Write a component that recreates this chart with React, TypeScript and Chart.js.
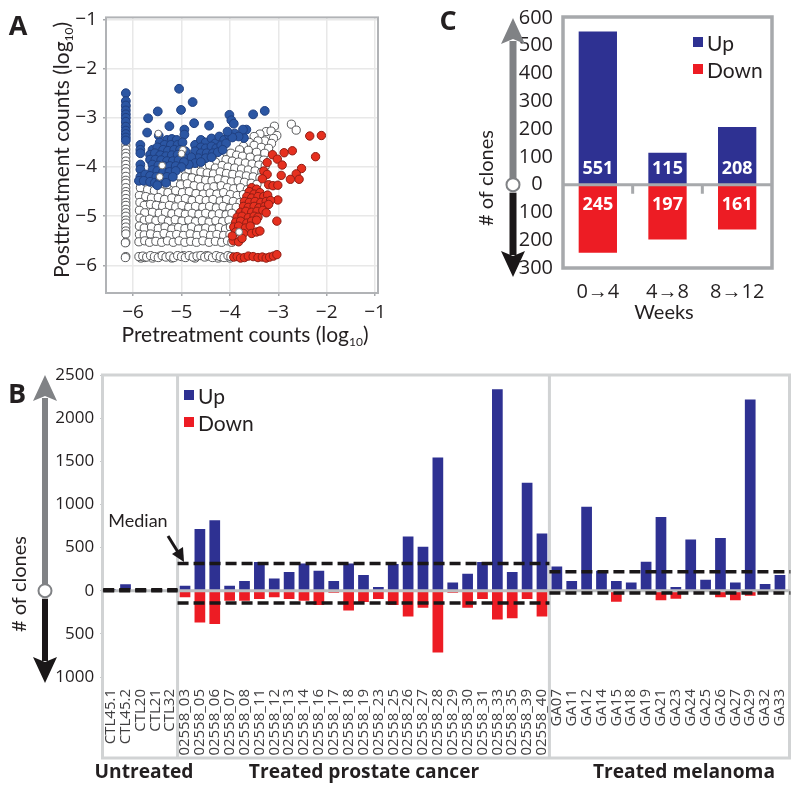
import React, { useRef, useEffect } from "react";
import Chart from "chart.js/auto";

const FONT = '"Open Sans"';
const TITLE_FONT = "Lato";
const INK = "#231f20";
const BLUE = "#2e3192";
const RED = "#ed1c24";

// panel A, [pretreatment, posttreatment] in log10
const whiteClones: [number, number][] = [
  [-2.73, -3.13], [-2.63, -3.25], [-3.08, -3.17],
  [-3.25, -3.28], [-3.15, -3.27], [-3.03, -3.36], [-3.38, -3.33], [-3.1, -3.42], [-3.5, -3.38],
  [-3.28, -3.47], [-3.42, -3.47], [-3.14, -3.52], [-3.6, -3.5], [-3.5, -3.56], [-3.35, -3.6],
  [-3.2, -3.62], [-3.72, -3.58], [-3.62, -3.66], [-3.45, -3.7], [-3.28, -3.72], [-3.8, -3.65],
  [-3.98, -3.72], [-3.86, -3.76], [-3.74, -3.78], [-3.58, -3.8], [-3.42, -3.84], [-3.3, -3.86],
  [-4.2, -3.82], [-4.08, -3.85], [-3.95, -3.88], [-3.82, -3.9], [-3.68, -3.92], [-3.54, -3.94],
  [-3.4, -3.96], [-3.27, -3.98], [-4.3, -3.9],
  [-4.55, -3.98], [-4.42, -3.96], [-4.3, -4.02], [-4.16, -3.97], [-4.04, -4.0], [-3.9, -4.02],
  [-3.76, -4.04], [-3.62, -4.06], [-3.48, -4.08], [-3.34, -4.1],
  [-4.85, -4.05], [-4.72, -4.08], [-4.6, -4.1], [-4.47, -4.12], [-4.34, -4.14], [-4.2, -4.1],
  [-4.07, -4.13], [-3.94, -4.15], [-3.8, -4.16], [-3.66, -4.18], [-3.52, -4.2], [-3.38, -4.22],
  [-5.05, -4.18], [-4.92, -4.2], [-4.78, -4.22], [-4.65, -4.25], [-4.5, -4.27], [-4.37, -4.28],
  [-4.24, -4.24], [-4.1, -4.27], [-3.97, -4.3], [-3.83, -4.28], [-3.7, -4.31], [-3.56, -4.33], [-3.44, -4.35],
  [-5.3, -4.36], [-5.15, -4.33], [-5.02, -4.36], [-4.88, -4.34], [-4.74, -4.38], [-4.6, -4.4],
  [-4.46, -4.42], [-4.33, -4.4], [-4.18, -4.38], [-4.05, -4.42], [-3.92, -4.44], [-3.78, -4.42],
  [-3.64, -4.46], [-3.52, -4.5],
  [-5.85, -4.42], [-5.7, -4.46], [-5.56, -4.48], [-5.42, -4.5], [-5.28, -4.52], [-5.12, -4.48],
  [-4.98, -4.52], [-4.84, -4.5], [-4.7, -4.54], [-4.55, -4.55], [-4.41, -4.53], [-4.27, -4.55],
  [-4.13, -4.52], [-3.99, -4.56], [-3.85, -4.58], [-3.72, -4.56], [-3.6, -4.6],
  [-5.87, -4.58], [-5.74, -4.6], [-5.62, -4.63], [-5.48, -4.62], [-5.35, -4.66], [-5.2, -4.63],
  [-5.06, -4.66], [-4.92, -4.64], [-4.78, -4.68], [-4.63, -4.66], [-4.49, -4.68], [-4.35, -4.66],
  [-4.2, -4.69], [-4.07, -4.66], [-3.93, -4.7], [-3.79, -4.72],
  [-5.86, -4.72], [-5.77, -4.78], [-5.64, -4.76], [-5.52, -4.78], [-5.39, -4.8], [-5.25, -4.78],
  [-5.12, -4.81], [-4.99, -4.78], [-4.85, -4.82], [-4.71, -4.8], [-4.56, -4.82], [-4.42, -4.8],
  [-4.28, -4.83], [-4.14, -4.8], [-4.0, -4.84], [-3.87, -4.82],
  [-5.87, -4.88], [-5.76, -4.93], [-5.6, -4.92], [-5.46, -4.94], [-5.33, -4.92], [-5.2, -4.95],
  [-5.06, -4.93], [-4.92, -4.96], [-4.78, -4.94], [-4.64, -4.96], [-4.5, -4.94], [-4.36, -4.97],
  [-4.22, -4.95], [-4.08, -4.97], [-3.96, -4.94],
  [-5.86, -5.04], [-5.77, -5.08], [-5.66, -5.06], [-5.53, -5.09], [-5.4, -5.06], [-5.27, -5.1],
  [-5.13, -5.07], [-4.99, -5.1], [-4.85, -5.08], [-4.71, -5.11], [-4.57, -5.09], [-4.43, -5.12],
  [-4.29, -5.09], [-4.15, -5.11], [-4.02, -5.08],
  [-5.87, -5.2], [-5.77, -5.24], [-5.62, -5.22], [-5.48, -5.25], [-5.34, -5.22], [-5.2, -5.26],
  [-5.06, -5.23], [-4.93, -5.25], [-4.79, -5.22], [-4.65, -5.26], [-4.5, -5.24], [-4.36, -5.26],
  [-4.22, -5.23], [-4.09, -5.26], [-3.99, -5.22],
  [-5.87, -5.37], [-5.77, -5.38], [-5.64, -5.36], [-5.5, -5.39], [-5.36, -5.35], [-5.23, -5.39],
  [-5.1, -5.37], [-4.96, -5.39], [-4.82, -5.36], [-4.68, -5.39], [-4.54, -5.36], [-4.4, -5.39],
  [-4.27, -5.37], [-4.13, -5.39], [-4.0, -5.37],
  [-5.88, -5.52], [-5.76, -5.5], [-5.66, -5.53], [-5.53, -5.51], [-5.41, -5.53], [-5.29, -5.5],
  [-5.17, -5.53], [-5.05, -5.5], [-4.93, -5.53], [-4.81, -5.51], [-4.69, -5.53], [-4.56, -5.5],
  [-4.43, -5.53], [-4.3, -5.51], [-4.17, -5.53], [-4.05, -5.5], [-3.96, -5.53],
  [-5.88, -5.82], [-5.8, -5.81], [-5.72, -5.83], [-5.64, -5.8], [-5.56, -5.82], [-5.48, -5.84],
  [-5.4, -5.8], [-5.32, -5.83], [-5.24, -5.81], [-5.16, -5.84], [-5.08, -5.8], [-5.0, -5.82],
  [-4.92, -5.84], [-4.84, -5.8], [-4.76, -5.83], [-4.68, -5.81], [-4.6, -5.8], [-4.52, -5.83],
  [-4.44, -5.81], [-4.36, -5.84], [-4.28, -5.8], [-4.2, -5.82], [-4.12, -5.84], [-4.04, -5.8], [-3.98, -5.82],
  [-6.15, -2.78], [-6.15, -3.12], [-6.15, -3.56], [-6.15, -3.64], [-6.15, -3.72], [-6.15, -3.79],
  [-6.15, -3.88], [-6.15, -3.95], [-6.15, -4.03], [-6.15, -4.1], [-6.15, -4.19], [-6.15, -4.27],
  [-6.15, -4.33], [-6.15, -4.42], [-6.15, -4.5], [-6.15, -4.56], [-6.15, -4.64], [-6.15, -4.72],
  [-6.15, -4.78], [-6.15, -4.86], [-6.15, -4.93], [-6.15, -5.0], [-6.15, -5.08], [-6.15, -5.14],
  [-6.15, -5.22], [-6.15, -5.3], [-6.15, -5.36], [-6.15, -5.53], [-6.16, -5.54], [-6.15, -5.82], [-6.16, -5.84],
];
// the clones packed into the gaps of the rows above
const whiteFill: [number, number][] = [
  [-5.5, -4.55], [-5.22, -4.58], [-4.9, -4.58], [-4.62, -4.6], [-4.34, -4.6], [-4.06, -4.6], [-3.8, -4.62],
  [-5.7, -4.7], [-5.42, -4.72], [-5.14, -4.73], [-4.86, -4.74], [-4.57, -4.74], [-4.28, -4.74], [-4.0, -4.75],
  [-5.68, -4.85], [-5.4, -4.87], [-5.12, -4.88], [-4.85, -4.87], [-4.58, -4.89], [-4.3, -4.88], [-4.02, -4.89],
  [-5.62, -5.0], [-5.34, -5.0], [-5.06, -5.02], [-4.78, -5.01], [-4.5, -5.02], [-4.22, -5.03], [-3.98, -5.02],
  [-5.56, -5.16], [-5.3, -5.15], [-5.02, -5.17], [-4.72, -5.17], [-4.44, -5.16], [-4.16, -5.18],
  [-5.54, -5.31], [-5.26, -5.3], [-5.0, -5.31], [-4.72, -5.31], [-4.46, -5.3], [-4.2, -5.31],
  [-5.6, -5.45], [-5.3, -5.45], [-5.02, -5.44], [-4.75, -5.45], [-4.48, -5.44], [-4.2, -5.45],
  [-5.1, -4.42], [-4.82, -4.44], [-4.54, -4.46], [-4.25, -4.47], [-3.98, -4.49], [-3.72, -4.5],
  [-4.86, -4.28], [-4.58, -4.32], [-4.3, -4.32], [-4.02, -4.36], [-3.76, -4.36],
  [-4.66, -4.17], [-4.4, -4.2], [-4.13, -4.19], [-3.87, -4.22], [-3.6, -4.26],
  [-4.36, -4.06], [-4.1, -4.06], [-3.84, -4.09], [-3.58, -4.12],
  [-4.02, -3.92], [-3.76, -3.97], [-3.48, -4.0], [-3.9, -3.82], [-3.65, -3.86], [-3.36, -3.9],
  [-3.55, -3.65], [-3.33, -3.54], [-3.22, -3.55], [-3.44, -3.42],
  [-5.84, -5.85], [-5.76, -5.84], [-5.6, -5.85], [-5.44, -5.81], [-5.2, -5.85], [-4.96, -5.8],
  [-4.72, -5.85], [-4.48, -5.8], [-4.24, -5.85], [-4.0, -5.85],
];
const whiteOnTop: [number, number][] = [
  [-5.48, -3.32], [-5.4, -3.97], [-5.45, -4.2], [-4.97, -3.65], [-5.0, -3.73], [-3.81, -5.32],
];
const blueClones: [number, number][] = [
  [-5.05, -2.41], [-4.77, -2.68], [-5.01, -2.84], [-5.49, -2.87], [-5.69, -3.01], [-4.01, -2.94],
  [-3.97, -3.05], [-3.92, -3.12], [-3.52, -2.93], [-3.28, -2.86], [-4.74, -3.11], [-4.43, -3.16],
  [-5.25, -3.17], [-4.94, -3.24], [-4.94, -3.34], [-5.71, -3.3], [-5.47, -3.36], [-3.66, -3.24],
  [-3.71, -3.41], [-3.73, -3.24],
  [-6.15, -2.5], [-6.15, -2.66], [-6.15, -2.75], [-6.15, -2.85], [-6.15, -2.93], [-6.15, -3.0],
  [-6.15, -3.08], [-6.15, -3.18], [-6.15, -3.26], [-6.15, -3.33], [-6.15, -3.4], [-6.15, -3.46],
  [-4.72, -3.55], [-4.6, -3.45], [-4.5, -3.5], [-4.38, -3.42], [-4.3, -3.52], [-4.22, -3.38],
  [-4.12, -3.45], [-4.02, -3.35], [-3.9, -3.32], [-3.82, -3.38], [-3.95, -3.4], [-4.05, -3.28],
  [-4.6, -3.6], [-4.5, -3.62], [-4.38, -3.58], [-4.28, -3.62], [-4.18, -3.56], [-4.08, -3.52],
  [-4.72, -3.68], [-4.6, -3.72], [-4.48, -3.72], [-4.35, -3.72], [-4.25, -3.7], [-4.15, -3.65],
  [-4.65, -3.82], [-4.5, -3.82], [-4.38, -3.8], [-4.8, -3.8], [-4.72, -3.92], [-4.85, -3.95], [-4.6, -3.9],
  [-5.3, -3.45], [-5.2, -3.43], [-5.1, -3.45], [-5.45, -3.5], [-5.35, -3.55], [-5.22, -3.55],
  [-5.08, -3.55], [-4.98, -3.5], [-5.6, -3.65], [-5.5, -3.6], [-5.38, -3.65], [-5.28, -3.67],
  [-5.15, -3.65], [-5.03, -3.65], [-4.92, -3.68], [-5.65, -3.75], [-5.55, -3.72], [-5.44, -3.76],
  [-5.32, -3.78], [-5.2, -3.76], [-5.08, -3.75], [-4.97, -3.8], [-5.65, -3.85], [-5.54, -3.85],
  [-5.42, -3.86], [-5.3, -3.88], [-5.18, -3.88], [-5.06, -3.86], [-4.95, -3.9], [-5.6, -3.95],
  [-5.48, -3.97], [-5.36, -3.98], [-5.24, -3.98], [-5.12, -3.98], [-5.0, -4.0], [-5.85, -3.95],
  [-5.85, -4.05], [-5.6, -4.06], [-5.5, -4.08], [-5.38, -4.1], [-5.25, -4.1], [-5.12, -4.08],
  [-5.85, -4.2], [-5.75, -4.15], [-5.65, -4.18], [-5.52, -4.2], [-5.42, -4.22], [-5.3, -4.2],
  [-5.18, -4.2], [-5.88, -4.28], [-5.78, -4.28], [-5.65, -4.3], [-5.55, -4.32], [-5.45, -4.3],
  [-5.32, -4.32], [-5.5, -4.37], [-5.85, -3.55], [-5.85, -3.65], [-5.85, -3.72],
];
const redClones: [number, number][] = [
  [-2.11, -3.36], [-2.35, -3.37], [-2.23, -3.79], [-2.71, -3.67], [-2.88, -3.71], [-3.12, -3.75],
  [-3.02, -3.84], [-2.92, -3.96], [-2.52, -4.03], [-2.63, -4.14], [-2.75, -4.25], [-2.57, -4.25],
  [-2.94, -4.17], [-3.23, -3.91], [-3.3, -4.08], [-3.23, -4.15], [-3.33, -4.24], [-3.2, -4.36],
  [-3.11, -4.38], [-3.01, -4.37], [-3.01, -4.67], [-3.03, -5.1],
  [-3.55, -4.42], [-3.45, -4.45], [-3.6, -4.5], [-3.5, -4.55], [-3.38, -4.52], [-3.65, -4.6],
  [-3.55, -4.63], [-3.42, -4.6], [-3.3, -4.6], [-3.22, -4.57], [-3.7, -4.7], [-3.6, -4.72],
  [-3.48, -4.7], [-3.36, -4.72], [-3.25, -4.7], [-3.16, -4.68], [-3.72, -4.8], [-3.62, -4.82],
  [-3.5, -4.8], [-3.4, -4.83], [-3.28, -4.8], [-3.2, -4.76], [-3.78, -4.92], [-3.67, -4.9],
  [-3.55, -4.92], [-3.44, -4.9], [-3.32, -4.88], [-3.25, -4.93], [-3.85, -5.02], [-3.75, -5.0],
  [-3.62, -5.03], [-3.5, -5.0], [-3.42, -5.02], [-3.88, -5.12], [-3.78, -5.1], [-3.65, -5.14],
  [-3.55, -5.1], [-3.45, -5.08], [-3.92, -5.22], [-3.82, -5.2], [-3.68, -5.24], [-3.58, -5.2],
  [-3.88, -5.32], [-3.72, -5.35], [-3.55, -5.35], [-3.45, -5.32], [-3.38, -5.3], [-3.93, -5.5],
  [-3.82, -5.52], [-3.75, -5.45], [-3.95, -5.4],
  [-3.92, -5.83], [-3.85, -5.82], [-3.78, -5.85], [-3.7, -5.84], [-3.62, -5.81], [-3.52, -5.82],
  [-3.42, -5.84], [-3.33, -5.83], [-3.25, -5.85], [-3.18, -5.83], [-3.1, -5.81], [-3.03, -5.78],
];

// panel B
const sampleLabels = [
  "CTL45.1", "CTL45.2", "CTL20", "CTL21", "CTL32",
  "02558_03", "02558_05", "02558_06", "02558_07", "02558_08", "02558_11", "02558_12", "02558_13",
  "02558_14", "02558_16", "02558_17", "02558_18", "02558_19", "02558_23", "02558_25", "02558_26",
  "02558_27", "02558_28", "02558_29", "02558_30", "02558_31", "02558_33", "02558_35", "02558_39", "02558_40",
  "GA07", "GA11", "GA12", "GA14", "GA15", "GA18", "GA19", "GA21", "GA23", "GA24", "GA25", "GA26",
  "GA27", "GA29", "GA32", "GA33",
];
const sampleUp = [
  20, 75, 5, 5, 5,
  58, 714, 818, 58, 112, 332, 143, 216, 316, 231, 112, 316, 181, 42, 309, 629, 509, 1543, 96, 197, 332, 2334, 216, 1250, 664,
  282, 112, 972, 231, 112, 96, 336, 853, 42, 594, 127, 610, 96, 2215, 77, 181,
];
const sampleDown = [
  -10, -15, -5, -5, -5,
  -77, -369, -385, -115, -115, -96, -77, -96, -115, -165, -23, -230, -130, -96, -165, -300, -196, -715, -23, -196, -96, -335, -319, -96, -300,
  -15, -5, -5, -5, -127, -5, -10, -111, -92, -5, -5, -77, -111, -58, -5, -5,
];
const groupEdges = [0, 5, 30, 46];
const medianUp = [10, 316, 220];
const medianDown = [0, -142, -27];

// panel C
const weekLabels = ["0→4", "4→8", "8→12"];
const weekUp = [551, 115, 208];
const weekDown = [-245, -197, -161];

function text(ctx: CanvasRenderingContext2D, s: string, x: number, y: number, font: string, color = INK, align: CanvasTextAlign = "center", rot = 0) {
  ctx.save();
  ctx.translate(x, y);
  ctx.rotate(rot);
  ctx.font = font;
  ctx.fillStyle = color;
  ctx.textAlign = align;
  ctx.textBaseline = "middle";
  ctx.fillText(s, 0, 0);
  ctx.restore();
}

function logTitle(ctx: CanvasRenderingContext2D, s: string, cx: number, cy: number, rot: number) {
  const big = `21px ${TITLE_FONT}`;
  const small = `12px ${TITLE_FONT}`;
  ctx.save();
  ctx.translate(cx, cy);
  ctx.rotate(rot);
  ctx.fillStyle = INK;
  ctx.textBaseline = "alphabetic";
  ctx.textAlign = "left";
  ctx.font = big;
  const a = ctx.measureText(s).width;
  const c = ctx.measureText(")").width;
  ctx.font = small;
  const b = ctx.measureText("10").width;
  let x = -(a + b + c) / 2;
  ctx.font = big;
  ctx.fillText(s, x, 7);
  x += a;
  ctx.font = small;
  ctx.fillText("10", x, 11);
  x += b;
  ctx.font = big;
  ctx.fillText(")", x, 7);
  ctx.restore();
}

// the grey up / black down arrows with the open circle at zero
function clonesArrow(ctx: CanvasRenderingContext2D, x: number, zero: number, top: number, bottom: number, headLen: number, half: number, shaft: number) {
  ctx.fillStyle = "#808285";
  ctx.fillRect(x - shaft / 2, top + headLen - 3, shaft, zero - top - headLen + 3);
  ctx.beginPath();
  ctx.moveTo(x, top);
  ctx.lineTo(x + half, top + headLen);
  ctx.lineTo(x, top + headLen - 5);
  ctx.lineTo(x - half, top + headLen);
  ctx.closePath();
  ctx.fill();
  ctx.fillStyle = "#1a1718";
  ctx.fillRect(x - shaft / 2, zero + 8, shaft, bottom - headLen - zero - 4);
  ctx.beginPath();
  ctx.moveTo(x, bottom);
  ctx.lineTo(x + half, bottom - headLen);
  ctx.lineTo(x, bottom - headLen + 5);
  ctx.lineTo(x - half, bottom - headLen);
  ctx.closePath();
  ctx.fill();
  ctx.beginPath();
  ctx.arc(x, zero, 6.5, 0, Math.PI * 2);
  ctx.fillStyle = "#fff";
  ctx.fill();
  ctx.lineWidth = 2;
  ctx.strokeStyle = "#808285";
  ctx.stroke();
}

function legendRows(chart: any, x: number, y: number, gap: number, size: number) {
  const ctx = chart.ctx;
  chart.data.datasets.forEach((d: any, i: number) => {
    const cy = y + i * gap;
    ctx.fillStyle = d.backgroundColor;
    ctx.fillRect(x, cy - 5, 10, 10);
    text(ctx, d.label, x + 14, cy + 2, `${size}px ${TITLE_FONT}`, INK, "left");
  });
}

// every canvas covers the page, the plot rectangle is set through padding and fixed axis sizes
function plotAt(left: number, top: number, right: number, bottom: number) {
  return {
    padding: { top, right: 800 - right, left: 0, bottom: 0 },
    yFit: (s: any) => { s.width = left; },
    xFit: (s: any) => {
      s.height = 793 - bottom;
      s.paddingLeft = 0;
      s.paddingRight = 0;
    },
  };
}

const scatterPlot = plotAt(106, 13, 378, 293);
const samplePlot = plotAt(103.2, 375, 787.4, 677);
const weekPlot = plotAt(563, 18, 772, 268);

function point(data: [number, number][], bg: string, edge: string, r: number, order: number, width = 1) {
  return {
    data: data.map(([x, y]) => ({ x, y })),
    backgroundColor: bg,
    borderColor: edge,
    borderWidth: width,
    pointRadius: r,
    order,
  };
}

const scatterConfig: any = {
  type: "scatter",
  data: {
    datasets: [
      point(whiteClones, "#ffffff", "#58595b", 4.1, 4),
      point(whiteFill, "#ffffff", "#58595b", 4.1, 5),
      point(blueClones, "#2b56a3", "#1f3f80", 4.4, 3),
      point(redClones, "#e6301f", "#8f1d14", 4.2, 2),
      point(whiteOnTop, "#ffffff", "#6d6e71", 3.4, 1),
    ],
  },
  options: {
    responsive: false,
    animation: false,
    layout: { padding: scatterPlot.padding },
    plugins: { legend: { display: false }, tooltip: { enabled: false } },
    scales: {
      x: {
        type: "linear",
        min: -6.56,
        max: -0.94,
        afterFit: scatterPlot.xFit,
        border: { display: false },
        grid: { color: "#e8e8e8", lineWidth: 1.5, tickLength: 3, tickColor: "#a7a9ac" },
        ticks: {
          stepSize: 1,
          includeBounds: false,
          padding: 5,
          color: INK,
          font: { family: FONT, size: 19 },
          callback: (v: number) => "−" + Math.abs(v),
        },
      },
      y: {
        type: "linear",
        min: -6.56,
        max: -0.96,
        afterFit: scatterPlot.yFit,
        border: { display: false },
        grid: { color: "#e8e8e8", lineWidth: 1.5, tickLength: 3, tickColor: "#a7a9ac" },
        ticks: {
          stepSize: 1,
          includeBounds: false,
          padding: 6,
          color: INK,
          font: { family: FONT, size: 19 },
          callback: (v: number) => "−" + Math.abs(v),
        },
      },
    },
  },
  plugins: [
    {
      id: "panelA",
      afterDraw(chart: any) {
        const { ctx, chartArea: a } = chart;
        ctx.strokeStyle = "#b1b3b6";
        ctx.lineWidth = 2;
        ctx.strokeRect(a.left, a.top, a.right - a.left, a.bottom - a.top);
        logTitle(ctx, "Pretreatment counts (log", 245, 335, 0);
        logTitle(ctx, "Posttreatment counts (log", 62, 150, -Math.PI / 2);
        text(ctx, "A", 18, 27, `bold 27px ${FONT}`);
      },
    },
  ],
};

const sampleConfig: any = {
  type: "bar",
  data: {
    labels: sampleLabels,
    datasets: [
      { label: "Up", data: sampleUp, backgroundColor: BLUE },
      { label: "Down", data: sampleDown, backgroundColor: RED },
    ],
  },
  options: {
    responsive: false,
    animation: false,
    layout: { padding: samplePlot.padding },
    plugins: { legend: { display: false }, tooltip: { enabled: false } },
    datasets: { bar: { barPercentage: 0.72, categoryPercentage: 1 } },
    scales: {
      x: {
        stacked: true,
        afterFit: samplePlot.xFit,
        border: { display: false },
        grid: { display: false },
        ticks: {
          autoSkip: false,
          minRotation: 90,
          maxRotation: 90,
          padding: 4,
          color: "#414042",
          font: { family: FONT, size: 15 },
        },
      },
      y: {
        stacked: true,
        min: -1000,
        max: 2500,
        afterFit: samplePlot.yFit,
        border: { display: false },
        grid: { drawOnChartArea: false, tickLength: 3, tickColor: "#bcbec0" },
        ticks: {
          stepSize: 500,
          padding: 6,
          color: INK,
          font: { family: FONT, size: 17 },
          callback: (v: number) => String(Math.abs(v)),
        },
      },
    },
  },
  plugins: [
    {
      id: "panelB",
      afterDraw(chart: any) {
        const { ctx, scales } = chart;
        const zero = scales.y.getPixelForValue(0);
        ctx.strokeStyle = "#d1d3d4";
        ctx.lineWidth = 3;
        ctx.strokeRect(102.5, 375, 687, 383);
        ctx.beginPath();
        [groupEdges[1], groupEdges[2]].forEach((e) => {
          const px = scales.x.getPixelForValue(e - 0.5);
          ctx.moveTo(px, 375);
          ctx.lineTo(px, 758);
        });
        ctx.stroke();
        ctx.strokeStyle = "#bcbec0";
        ctx.beginPath();
        ctx.moveTo(102, zero);
        ctx.lineTo(790, zero);
        ctx.stroke();

        ctx.save();
        ctx.strokeStyle = "#1a1718";
        ctx.lineWidth = 3.5;
        ctx.setLineDash([11, 5]);
        medianUp.forEach((m, i) => {
          const x0 = scales.x.getPixelForValue(groupEdges[i] - 0.5);
          const x1 = scales.x.getPixelForValue(groupEdges[i + 1] - 0.5) + (i === 2 ? 3 : 0);
          [m, medianDown[i]].forEach((v) => {
            ctx.beginPath();
            ctx.moveTo(x0, scales.y.getPixelForValue(v));
            ctx.lineTo(x1, scales.y.getPixelForValue(v));
            ctx.stroke();
          });
        });
        ctx.restore();

        // median call-out
        text(ctx, "Median", 138, 521, `18px ${TITLE_FONT}`);
        ctx.strokeStyle = "#1a1718";
        ctx.lineWidth = 3;
        ctx.beginPath();
        ctx.moveTo(168, 536);
        ctx.lineTo(181, 557);
        ctx.stroke();
        ctx.fillStyle = "#1a1718";
        ctx.beginPath();
        ctx.moveTo(184, 562);
        ctx.lineTo(183, 547);
        ctx.lineTo(172, 554);
        ctx.closePath();
        ctx.fill();

        legendRows(chart, 184, 395, 27, 21);
        clonesArrow(ctx, 45, zero, 375, 683, 26, 12, 6);
        text(ctx, "# of clones", 20, 584, `20px ${TITLE_FONT}`, INK, "center", -Math.PI / 2);
        text(ctx, "B", 17, 395, `bold 27px ${FONT}`);
        const bold = `bold 19.2px ${FONT}`;
        text(ctx, "Untreated", 144, 773, bold);
        text(ctx, "Treated prostate cancer", 364, 773, bold);
        text(ctx, "Treated melanoma", 684, 773, bold);
      },
    },
  ],
};

const weekConfig: any = {
  type: "bar",
  data: {
    labels: weekLabels,
    datasets: [
      { label: "Up", data: weekUp, backgroundColor: BLUE },
      { label: "Down", data: weekDown, backgroundColor: RED },
    ],
  },
  options: {
    responsive: false,
    animation: false,
    layout: { padding: weekPlot.padding },
    plugins: { legend: { display: false }, tooltip: { enabled: false } },
    datasets: { bar: { barPercentage: 0.55, categoryPercentage: 1 } },
    scales: {
      x: {
        stacked: true,
        afterFit: weekPlot.xFit,
        border: { display: false },
        grid: { display: false },
        ticks: { padding: 4, color: INK, font: { family: FONT, size: 20 } },
      },
      y: {
        stacked: true,
        min: -300,
        max: 600,
        afterFit: weekPlot.yFit,
        border: { display: false },
        grid: { display: false },
        ticks: {
          stepSize: 100,
          padding: 2,
          color: INK,
          font: { family: FONT, size: 20 },
          callback: (v: number) => (v === 0 ? "0\u00a0\u00a0" : String(Math.abs(v))),
        },
      },
    },
  },
  plugins: [
    {
      id: "panelC",
      afterDraw(chart: any) {
        const { ctx, scales, chartArea: a } = chart;
        const zero = scales.y.getPixelForValue(0);
        ctx.strokeStyle = "#a7a9ac";
        ctx.lineWidth = 3.5;
        ctx.strokeRect(a.left, a.top - 1, a.right - a.left, a.bottom - a.top + 1);
        ctx.lineWidth = 3;
        ctx.beginPath();
        ctx.moveTo(a.left, zero);
        ctx.lineTo(a.right, zero);
        [0.5, 1.5].forEach((v) => {
          const px = scales.x.getPixelForValue(v);
          ctx.moveTo(px, zero);
          ctx.lineTo(px, zero + 9);
        });
        ctx.stroke();

        const bold = `bold 18px ${FONT}`;
        weekUp.forEach((v, i) => text(ctx, String(v), scales.x.getPixelForValue(i), zero - 16, bold, "#fff"));
        weekDown.forEach((v, i) => text(ctx, String(-v), scales.x.getPixelForValue(i), zero + 20, bold, "#fff"));

        legendRows(chart, 693, 42, 27, 21);
        clonesArrow(ctx, 513, zero, 18, 277, 26, 12, 7);
        text(ctx, "# of clones", 487, 178, `20px ${TITLE_FONT}`, INK, "center", -Math.PI / 2);
        text(ctx, "Weeks", 664, 313, `20px ${TITLE_FONT}`);
        text(ctx, "C", 448, 22, `bold 27px ${FONT}`);
      },
    },
  ],
};

function Panel({ config }: { config: any }) {
  const chartRef = useRef<HTMLCanvasElement | null>(null);

  useEffect(() => {
    if (!chartRef.current) return;
    const chart = new Chart(chartRef.current, config);
    return () => chart.destroy();
  }, [config]);

  return (
    <canvas
      ref={chartRef}
      width={800}
      height={793}
      style={{ position: "absolute", left: 0, top: 0, width: 800, height: 793, display: "block" }}
    />
  );
}

export default function App() {
  return (
    <>
      <Panel config={scatterConfig} />
      <Panel config={sampleConfig} />
      <Panel config={weekConfig} />
    </>
  );
}
